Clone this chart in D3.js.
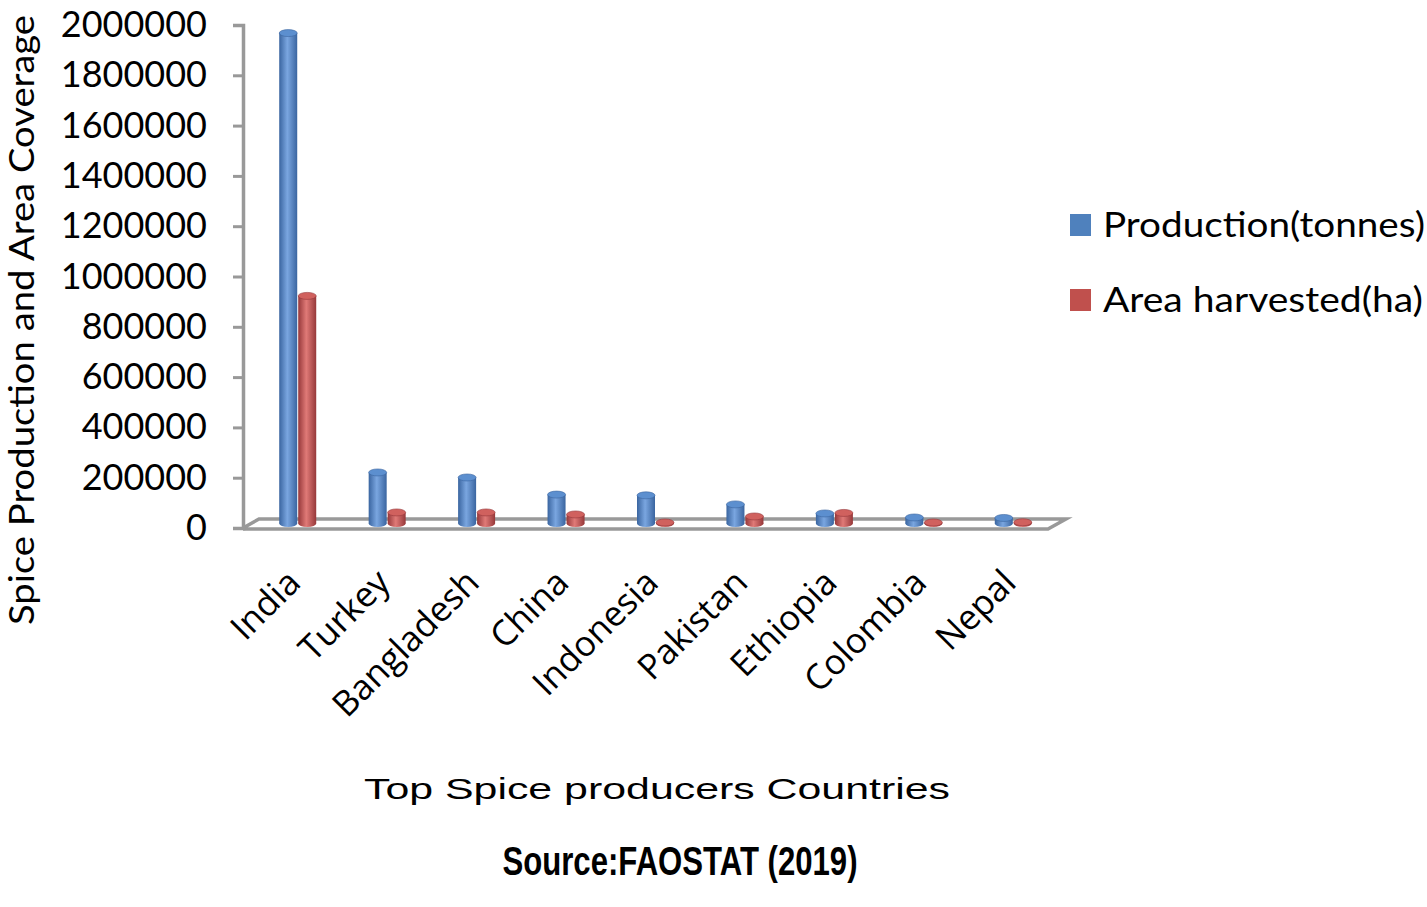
<!DOCTYPE html>
<html><head><meta charset="utf-8">
<script src="https://cdn.jsdelivr.net/npm/d3@7"></script>
<style>html,body{margin:0;padding:0;background:#fff;}svg{display:block;}</style>
</head><body>
<script>
const categories = ["India","Turkey","Bangladesh","China","Indonesia","Pakistan","Ethiopia","Colombia","Nepal"];
const production = [1950000, 203000, 183000, 115000, 112000, 76000, 40000, 24000, 22000];
const area = [905000, 44000, 44000, 36000, 4000, 28000, 42000, 4000, 5000];
const yTicks = [0,200000,400000,600000,800000,1000000,1200000,1400000,1600000,1800000,2000000];
const seriesNames = ["Production(tonnes)","Area harvested(ha)"];
const seriesColors = [
  {dark:"#3a65a0", mid:"#4f81bd", light:"#7aa6e0", top:"#5c8fcf"},
  {dark:"#96383a", mid:"#c0504d", light:"#e07a77", top:"#d0615e"}
];

const W = 1427, H = 907;
const FONT = "Lato, 'Open Sans', sans-serif";
const svg = d3.select("body").append("svg").attr("width", W).attr("height", H);
const defs = svg.append("defs");
seriesColors.forEach((c,i)=>{
  const g = defs.append("linearGradient").attr("id","g"+i).attr("x1","0").attr("x2","1").attr("y1","0").attr("y2","0");
  g.append("stop").attr("offset","0%").attr("stop-color",c.dark);
  g.append("stop").attr("offset","45%").attr("stop-color",c.light);
  g.append("stop").attr("offset","100%").attr("stop-color",c.dark);
});

const x0 = 243, x1 = 1048, y0 = 528, yTop = 25;
const depthX = 16, depthY = -9;
const y = d3.scaleLinear().domain([0,2000000]).range([y0, yTop]);
const x = d3.scaleBand().domain(categories).range([x0+10, x1+10]).padding(0);

// floor
svg.append("path")
  .attr("d", `M${x0},${y0} L${x0+depthX},${y0+depthY} L${x1+depthX+2},${y0+depthY} L${x1},${y0+1} L${x0},${y0+1}`)
  .attr("fill","none").attr("stroke","#999").attr("stroke-width",3.5).attr("stroke-linejoin","miter");

// y axis
const yAxis = d3.axisLeft(y).tickValues(yTicks).tickSize(10).tickPadding(26).tickFormat(d3.format("d"));
const ya = svg.append("g").attr("transform",`translate(${x0},0)`).call(yAxis);
ya.select(".domain").attr("stroke","#999").attr("stroke-width",3.5);
ya.selectAll(".tick line").attr("stroke","#999").attr("stroke-width",3);
ya.selectAll(".tick text").attr("font-family",FONT).attr("font-size",36).attr("fill","#000");

// bars as cylinders
const bw = 18, ry = 3.5;
const offY = depthY/2;
[production, area].forEach((vals, si)=>{
  const g = svg.append("g");
  categories.forEach((cat,i)=>{
    const cx = x(cat) + x.bandwidth()/2 + (si===0 ? -bw/2 - 0.5 : bw/2 + 0.5);
    const base = y(0) + offY;
    const top = y(vals[i]) + offY;
    const c = seriesColors[si];
    g.append("ellipse").attr("cx",cx).attr("cy",base).attr("rx",bw/2).attr("ry",ry).attr("fill","url(#g"+si+")");
    g.append("rect").attr("x",cx-bw/2).attr("y",top).attr("width",bw).attr("height",Math.max(0,base-top)).attr("fill","url(#g"+si+")");
    g.append("ellipse").attr("cx",cx).attr("cy",top).attr("rx",bw/2).attr("ry",ry).attr("fill",c.top).attr("stroke",c.dark).attr("stroke-width",0.6);
  });
});

// x labels
const xl = svg.append("g");
categories.forEach(cat=>{
  const cx = x(cat) + x.bandwidth()/2 - 4;
  xl.append("text").attr("transform",`translate(${cx},${y0+48}) rotate(-45)`)
    .attr("text-anchor","end").attr("dy","0.35em")
    .attr("font-family","'Open Sans', Lato, sans-serif").attr("font-size",35).attr("fill","#000")
    .text(cat);
});

// y title
svg.append("text").attr("transform","translate(22,320) rotate(-90)").attr("text-anchor","middle").attr("dy","0.35em")
  .attr("font-family",FONT).attr("font-size",34).attr("fill","#000")
  .attr("textLength",610).attr("lengthAdjust","spacingAndGlyphs")
  .text("Spice Production and Area Coverage");

// x title
svg.append("text").attr("x",657).attr("y",799).attr("text-anchor","middle")
  .attr("font-family","'Liberation Sans', Arial, sans-serif").attr("font-size",30).attr("fill","#000")
  .attr("textLength",586).attr("lengthAdjust","spacingAndGlyphs")
  .text("Top Spice producers Countries");

// source
svg.append("text").attr("x",680).attr("y",875).attr("text-anchor","middle")
  .attr("font-family","'Liberation Sans Narrow', 'Liberation Sans', Arial, sans-serif").attr("font-weight","bold").attr("font-size",40).attr("fill","#000")
  .attr("textLength",355).attr("lengthAdjust","spacingAndGlyphs")
  .text("Source:FAOSTAT (2019)");

// legend
const lg = svg.append("g");
const legendW = [322, 320];
seriesNames.forEach((n,i)=>{
  const ly = 225 + i*75;
  lg.append("rect").attr("x",1070).attr("y",ly-11).attr("width",21).attr("height",22).attr("fill",seriesColors[i].mid);
  lg.append("text").attr("x",1103).attr("y",ly).attr("dy","0.35em")
    .attr("font-family",FONT).attr("font-size",35).attr("fill","#000")
    .attr("textLength",legendW[i]).attr("lengthAdjust","spacingAndGlyphs").text(n);
});
</script>
</body></html>
